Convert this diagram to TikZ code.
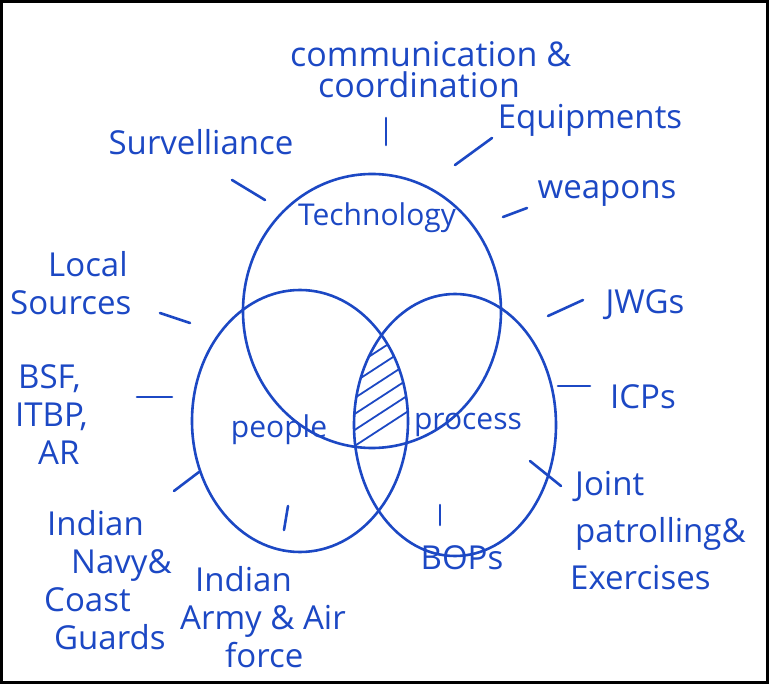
\documentclass[tikz,border=0pt]{standalone}
\usepackage{fontspec}
\setmainfont{Open Sans}
\usetikzlibrary{calc}
\definecolor{ink}{RGB}{28,72,196}
\tikzset{ring/.style={draw=ink, line width=2.6pt},
     tick/.style={draw=ink, line width=2.6pt, line cap=round},
     hatch/.style={draw=ink, line width=1.8pt},
     word/.style={text=ink, inner sep=0pt, align=left,
           font=\fontsize{33}{38}\selectfont},
     setname/.style={text=ink, inner sep=0pt,
           font=\fontsize{30}{34}\selectfont},
     frame/.style={draw=black, line width=3pt}
     }
\def\Tick#1#2#3{%
 \coordinate (#1a) at #2;
 \coordinate (#1b) at #3;
 \draw[tick] (#1a) -- (#1b);
}

\begin{document}
\begin{tikzpicture}[x=1pt, y=-1pt]
\useasboundingbox (0,0) rectangle (769,684);
\fill[white] (0,0) rectangle (769,684);
\draw[frame] (1.5,1.5) rectangle (767.5,682.5);
% the three sets
\coordinate (tech) at (372,311);
\coordinate (peop) at (300,421);
\coordinate (proc) at (455,425);
\begin{scope}
  \clip (tech) ellipse [x radius=129, y radius=137];
  \clip (peop) ellipse [x radius=108, y radius=131];
  \clip (proc) ellipse [x radius=101, y radius=131];
  \foreach \y in {270,286,...,470}
    \draw[hatch] (330,\y) -- ++(100,-65);
\end{scope}
\draw[ring] (tech) ellipse [x radius=129, y radius=137];
\draw[ring] (peop) ellipse [x radius=108, y radius=131];
\draw[ring] (proc) ellipse [x radius=101, y radius=131];
\node[setname] (technology) at (377,218) {Technology};
\node[setname] (people) at (279,430) {people};
\node[setname] (process) at (468,425) {process};
% labels round the outside
\node[word, anchor=west, font=\fontsize{34}{31}\selectfont] (comm) at (290,70)
  {communication \&\\\hspace*{28pt}coordination};
\node[word] (surv) at (201,142) {Survelliance};
\node[word] (equip) at (590,120) {Equipments};
\node[word] (weap) at (607,193) {weapons};
\node[word, anchor=west] (local) at (10,283) {\hspace*{38pt}Local\\Sources};
\node[word, anchor=west] (bsf) at (15,415) {\hspace*{3pt}BSF,\\ITBP,\\\hspace*{23pt}AR};
\node[word, anchor=west] (navy) at (44,580) {\hspace*{3pt}Indian\\\hspace*{27pt}Navy\&\\Coast\\\hspace*{10pt}Guards};
\node[word, anchor=west] (army) at (180,617) {\hspace*{15pt}Indian\\Army \& Air\\\hspace*{45pt}force};
\node[word, anchor=west, font=\fontsize{33}{47}\selectfont] (joint) at (570,531)
  {\hspace*{5pt}Joint\\\hspace*{5pt}patrolling\&\\Exercises};
\node[word] (bops) at (462,558) {BOPs};
\node[word] (jwgs) at (645,305) {JWGs};
\node[word] (icps) at (643,397) {ICPs};
% short strokes
\Tick{t1}{(386,118)}{(386,145)}
\Tick{t2}{(232,180)}{(265,200)}
\Tick{t3}{(455,165)}{(492,138)}
\Tick{t4}{(503,217)}{(527,208)}
\Tick{t5}{(160,313)}{(190,323)}
\Tick{t6}{(137,397)}{(172,397)}
\Tick{t7}{(174,491)}{(199,472)}
\Tick{t8}{(288,506)}{(284,530)}
\Tick{t9}{(440,505)}{(440,525)}
\Tick{t10}{(530,461)}{(561,486)}
\Tick{t11}{(548,316)}{(583,300)}
\Tick{t12}{(558,386)}{(590,386)}
\end{tikzpicture}
\end{document}
